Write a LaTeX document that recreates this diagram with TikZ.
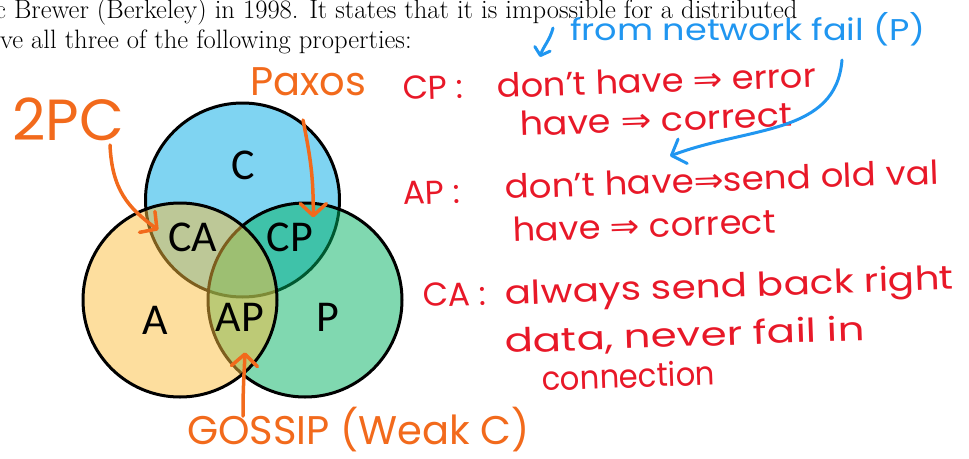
\documentclass[tikz,border=0pt]{standalone}
\usepackage{fontspec}
\newfontfamily\vennfont{Carlito}
\newfontfamily\handfont{Poppins}
\newfontfamily\symfont{DejaVu Sans}
\usetikzlibrary{positioning, arrows.meta}

\definecolor{cblue}{RGB}{0,169,229}
\definecolor{pgreen}{RGB}{1,177,97}
\definecolor{ayellow}{RGB}{251,189,61}
\definecolor{inkred}{RGB}{232,24,40}
\definecolor{inkorange}{RGB}{242,106,28}
\definecolor{inkblue}{RGB}{32,150,240}

\begin{document}
\begin{tikzpicture}[x=1pt, y=-1pt,
    set/.style={draw=black, line width=3pt, fill opacity=0.5},
    region/.style={font=\vennfont\fontsize{44}{50}\selectfont, inner sep=0pt},
    intro/.style={font=\fontsize{26.6}{30}\selectfont, inner sep=0pt, anchor=base west},
    redink/.style={text=inkred, font=\handfont\fontsize{33}{36}\selectfont, inner sep=0pt, anchor=base west, rotate=2},
    orangeink/.style={text=inkorange, font=\handfont\fontsize{40}{44}\selectfont, inner sep=0pt, anchor=base west},
    blueink/.style={text=inkblue, font=\handfont\fontsize{30}{32}\selectfont, inner sep=0pt, anchor=base west},
    pen/.style={line width=3.5pt, line cap=round, line join=round, -{Straight Barb[length=12pt, width=26pt, round]}}]
    \useasboundingbox (0,0) rectangle (969,458);
    \clip (0,0) rectangle (969,458);

    % text of the page
    \node[intro] (intro1) at (-5,18) {c Brewer (Berkeley) in 1998. It states that it is impossible for a distributed};
    \node[intro] (intro2) at (0,48) {ve all three of the following properties:};

    % the three sets
    \foreach \clr/\cx/\cy in {cblue/242.5/200, pgreen/305/300, ayellow/180/300}
        \draw[set, fill=\clr] (\cx,\cy) circle[radius=97];
    \foreach \nm/\txt/\lx/\ly in {lc/C/243/165, lca/CA/193/237, lcp/CP/290/237, la/A/155/320, lap/AP/240/317, lp/P/328/317}
        \node[region] (\nm) at (\lx,\ly) {\txt};

    % notes in orange
    \node[orangeink, font=\handfont\fontsize{58}{60}\selectfont] (twopc) at (12,140) {2PC};
    \node[orangeink] (paxos) at (250,95) {Paxos};
    \node[orangeink] (gossip) at (187,444) {GOSSIP (Weak C)};
    \draw[pen, inkorange] ([shift={(98,5)}]twopc.base west) .. controls +(2,45) and +(-30,-22) .. ([shift={(-10,-7)}]lca.west);
    \draw[pen, inkorange] ([shift={(53,25)}]paxos.base west) .. controls +(8,40) and +(0,-40) .. ([shift={(0,-5)}]lcp.north east);
    \draw[pen, inkorange] ([shift={(56,-28)}]gossip.base west) .. controls +(0,-30) and +(-1,25) .. ([shift={(5,21)}]lap.south);

    % notes in red
    \node[redink] (cpkey) at (403,100) {CP :};
    \node[redink, xscale=1.07] (cpline1) at (497,98) {don’t have {\symfont ⇒} error};
    \node[redink, xscale=1.11] (cpline2) at (520,136) {have {\symfont ⇒} correct};
    \node[redink] (apkey) at (403,205) {AP :};
    \node[redink, xscale=1.08] (apline1) at (505,199) {don’t have{\symfont ⇒}send old val};
    \node[redink, xscale=1.07] (apline2) at (513,242) {have {\symfont ⇒} correct};
    \node[redink] (cakey) at (423,307) {CA :};
    \node[redink, xscale=1.18] (caline1) at (505,305) {always send back right};
    \node[redink, xscale=1.27] (caline2) at (505,353) {data, never fail in};
    \node[redink, xscale=0.93] (caline3) at (542,391) {connection};

    % note in blue
    \node[blueink, xscale=1.17] (fromnet) at (570,40) {from network fail (P)};
    \draw[pen, inkblue, line width=3pt, -{Straight Barb[length=7pt, width=16pt, round]}] ([shift={(-17,-12)}]fromnet.base west) .. controls +(-3,12) and +(3,-10) .. ([shift={(43,-41)}]cpline1.base west);
    \draw[pen, inkblue, line width=3pt] ([shift={(272,20)}]fromnet.base west) .. controls +(-6,75) and +(80,-30) .. ([shift={(165,-43)}]apline1.base west);
\end{tikzpicture}
\end{document}
